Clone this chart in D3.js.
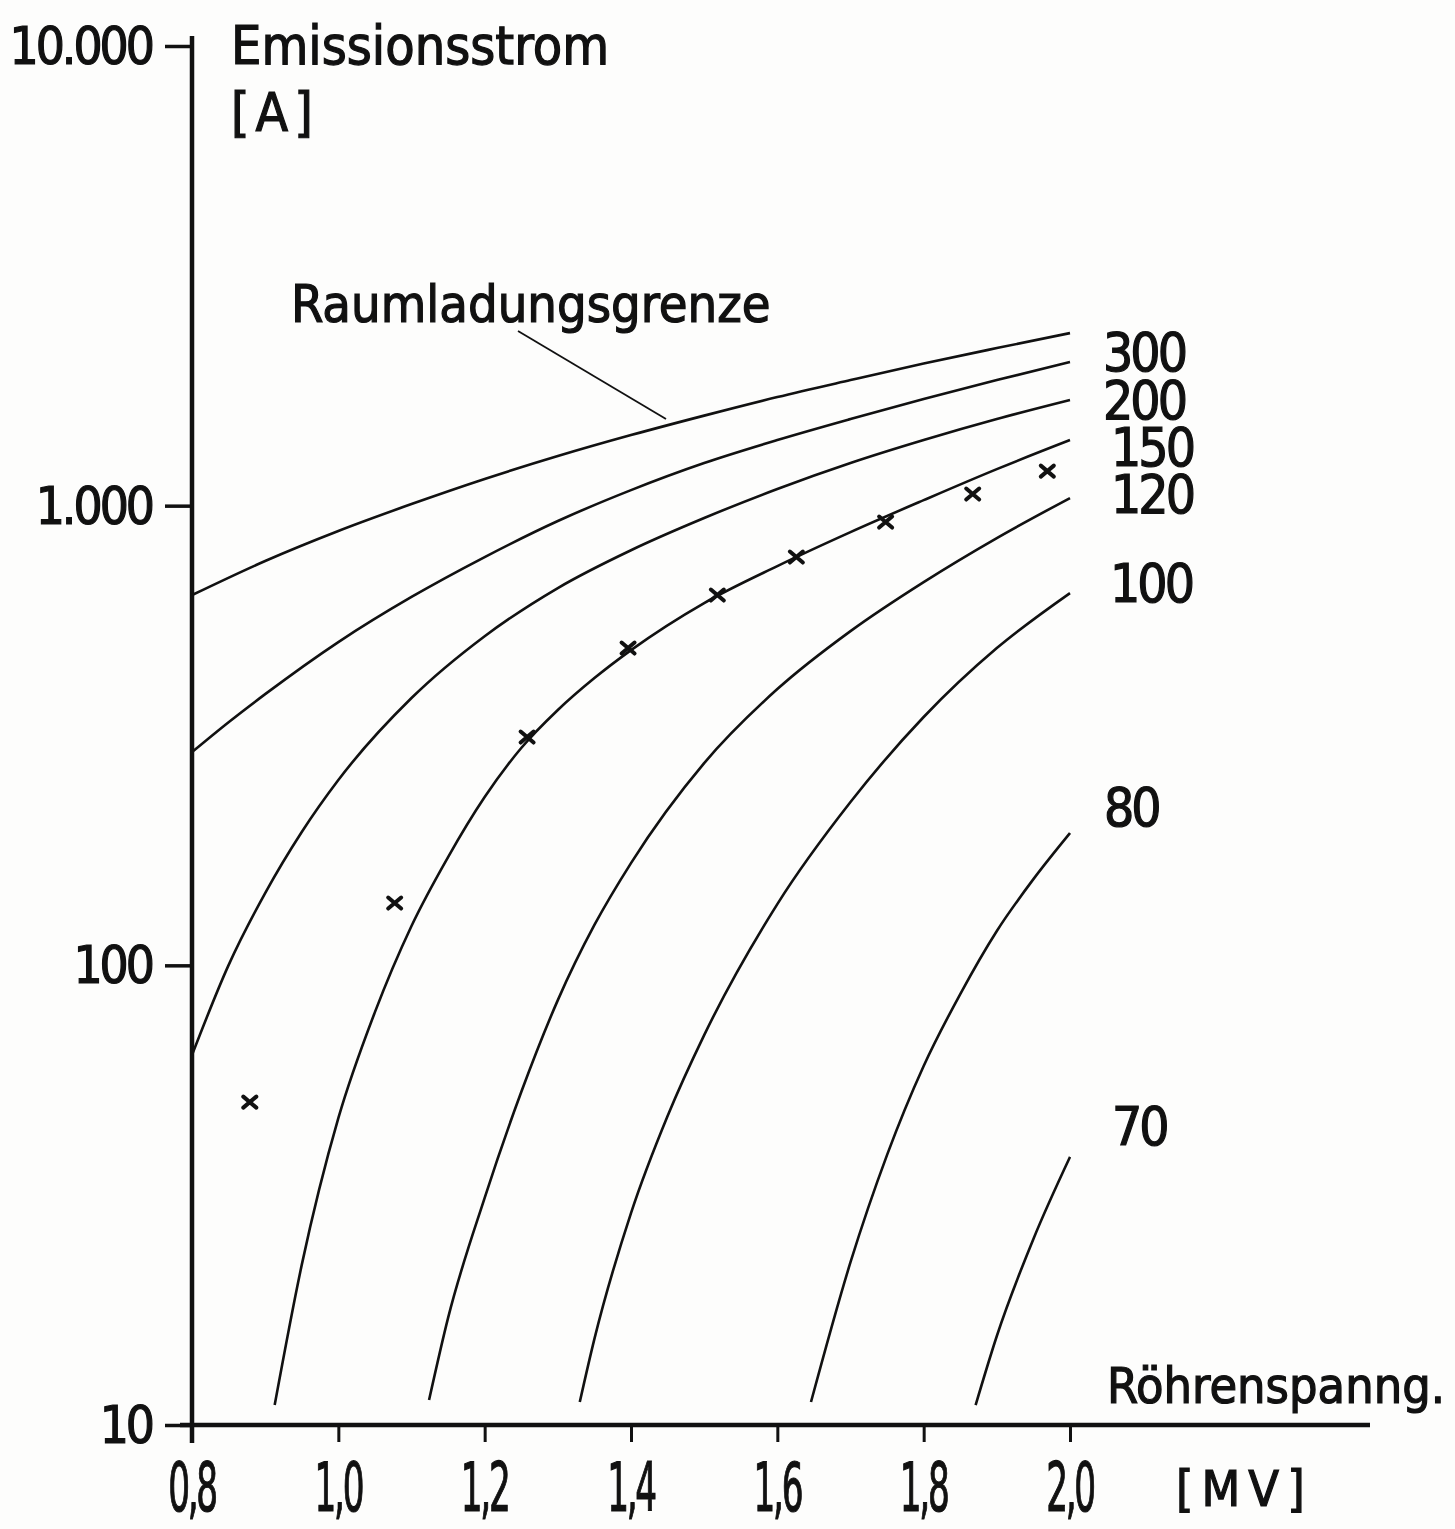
<!DOCTYPE html>
<html>
<head>
<meta charset="utf-8">
<script src="https://cdn.jsdelivr.net/npm/d3@7"></script>
<style>
  body { margin: 0; background: #fdfdfc; }
  svg text { font-family: "DejaVu Sans Condensed", "DejaVu Sans", sans-serif; fill: #111; stroke: #111; stroke-width: 1.2px; }
</style>
</head>
<body>
<div id="chart"></div>
<script>
// Emissionsstrom vs. Röhrenspannung (log y)
const WIDTH = 1455, HEIGHT = 1529;

// data: voltage [MV] and current [A] per curve
const curveNames = ["Raumladungsgrenze", "300", "200", "150", "120", "100", "80", "70"];
const vRlg = [0.8, 0.9, 1.0, 1.1, 1.2, 1.3, 1.4, 1.5, 1.6, 1.7, 1.8, 1.9, 2.0];
const iRlg = [639, 758, 881, 1008, 1143, 1282, 1424, 1570, 1723, 1876, 2038, 2202, 2374];
const v300 = [0.8, 0.85, 0.9, 1.0, 1.1, 1.2, 1.3, 1.4, 1.5, 1.6, 1.7, 1.8, 1.9, 2.0];
const i300 = [291, 338, 389, 505, 633, 773, 926, 1081, 1238, 1389, 1543, 1706, 1876, 2053];
const v200 = [0.8, 0.85, 0.9, 0.95, 1.0, 1.1, 1.2, 1.3, 1.4, 1.5, 1.6, 1.7, 1.8, 1.9, 2.0];
const i200 = [63.8, 100.1, 143.6, 195, 253, 381.5, 520, 662, 800, 940, 1087, 1238, 1389, 1543, 1697];
const v150 = [0.913, 0.95, 1.0, 1.05, 1.1, 1.15, 1.2, 1.25, 1.3, 1.35, 1.4, 1.5, 1.6, 1.7, 1.8, 1.9, 2.0];
const i150 = [11.05, 22.3, 46.5, 79.1, 121.8, 172.0, 232.3, 297, 359.3, 421.6, 485, 614, 739, 876, 1028, 1201, 1389];
const v120 = [1.124, 1.15, 1.2, 1.25, 1.3, 1.35, 1.4, 1.5, 1.6, 1.7, 1.8, 1.9, 2.0];
const i120 = [11.33, 17.1, 31.2, 53.0, 84.0, 122.4, 166.9, 275.4, 399.0, 533.5, 682, 850.3, 1038.7];
const v100 = [1.33, 1.35, 1.4, 1.45, 1.5, 1.6, 1.7, 1.8, 1.9, 2.0];
const i100 = [11.22, 15.39, 28.9, 47.0, 70.5, 135.9, 226.6, 346.9, 490, 645.4];
const v80 = [1.646, 1.7, 1.75, 1.8, 1.85, 1.9, 1.95, 2.0];
const i80 = [11.22, 22.6, 38.7, 60.4, 86.6, 118.8, 154.0, 194.0];
const v70 = [1.871, 1.9, 1.95, 2.0];
const i70 = [11.05, 15.62, 25.4, 38.3];

// measured points (crosses)
const vMeas = [0.879, 1.077, 1.258, 1.396, 1.518, 1.626, 1.748, 1.867, 1.969];
const iMeas = [50.4, 136.6, 313.8, 490, 639, 773, 921, 1060, 1189];

const xTicks = [0.8, 1.0, 1.2, 1.4, 1.6, 1.8, 2.0];
const xTickLabels = ["0,8", "1,0", "1,2", "1,4", "1,6", "1,8", "2,0"];
const yTicks = [10, 100, 1000, 10000];
const yTickLabels = ["10", "100", "1.000", "10.000"];

const curveV = [vRlg, v300, v200, v150, v120, v100, v80, v70];
const curveI = [iRlg, i300, i200, i150, i120, i100, i80, i70];

let svg = d3.select("#chart")
    .append("svg")
    .attr("width", WIDTH)
    .attr("height", HEIGHT);

let x = d3.scaleLinear().domain([0.8, 2.0]).range([192, 1070]);
let y = d3.scaleLog().domain([10, 10000]).range([1425, 46]);

const ink = "#111";

// axes (ticks only, the axis lines are drawn by hand so they can overshoot)
let xAxis = svg.append("g")
    .attr("transform", "translate(0,1425)")
    .call(d3.axisBottom(x).tickValues(xTicks).tickSize(17).tickSizeOuter(0).tickFormat(""));
xAxis.select(".domain").remove();
xAxis.selectAll("line").attr("stroke", ink).attr("stroke-width", 3);

let yAxis = svg.append("g")
    .attr("transform", "translate(192,0)")
    .call(d3.axisLeft(y).tickValues(yTicks).tickSize(27).tickSizeOuter(0).tickFormat(""));
yAxis.select(".domain").remove();
yAxis.selectAll("line").attr("stroke", ink).attr("stroke-width", 3.5);

svg.append("line")
    .attr("x1", 180).attr("x2", 1370)
    .attr("y1", 1425).attr("y2", 1425)
    .attr("stroke", ink).attr("stroke-width", 4.5);
svg.append("line")
    .attr("x1", 192).attr("x2", 192)
    .attr("y1", 36).attr("y2", 1443)
    .attr("stroke", ink).attr("stroke-width", 4.5);

// tick labels
svg.selectAll(".xlab")
    .data(xTicks)
    .enter()
    .append("text")
    .attr("class", "xlab")
    .attr("transform", function(d) { return `translate(${x(d)}, 1511) scale(0.56, 1)`; })
    .attr("text-anchor", "middle")
    .style("font-size", "68px")
    .style("letter-spacing", "-4px")
    .text(function(d, i) { return xTickLabels[i]; });

svg.selectAll(".ylab")
    .data(yTicks)
    .enter()
    .append("text")
    .attr("class", "ylab")
    .attr("x", 152)
    .attr("y", function(d) { return y(d) + 18; })
    .attr("text-anchor", "end")
    .style("font-size", "51px")
    .style("letter-spacing", "-3px")
    .text(function(d, i) { return yTickLabels[i]; });

// axis titles
svg.append("text").attr("x", 231).attr("y", 64).style("font-size", "53.5px").text("Emissionsstrom");
svg.append("text").attr("x", 231).attr("y", 131).style("font-size", "53px").style("letter-spacing", "6px").text("[A]");
svg.append("text").attr("x", 1107).attr("y", 1403).style("font-size", "50px").text("Röhrenspanng.");
svg.append("text").attr("x", 1176).attr("y", 1506).style("font-size", "50px").style("letter-spacing", "8px").text("[MV]");

// curves
let line = d3.line()
    .x(function(d) { return x(d[0]); })
    .y(function(d) { return y(d[1]); })
    .curve(d3.curveMonotoneX);

curveV.forEach(function(vs, k) {
    let pts = vs.map(function(v, j) { return [v, curveI[k][j]]; });
    svg.append("path")
        .attr("d", line(pts))
        .attr("fill", "none")
        .attr("stroke", ink)
        .attr("stroke-width", 2.6);
});

// curve labels at the right end (stacked tightly, as in the original)
const labelY = [null, 371, 419, 466, 513, 602, 826, 1145];
const labelX = [null, 1103, 1103, 1111, 1111, 1110, 1104, 1112];
curveNames.forEach(function(name, k) {
    if (k === 0) return;
    svg.append("text")
        .attr("x", labelX[k])
        .attr("y", labelY[k])
        .style("font-size", "53px")
        .style("letter-spacing", "-3px")
        .text(name);
});

svg.append("text").attr("x", 291).attr("y", 322).style("font-size", "52px").text(curveNames[0]);
svg.append("line")
    .attr("x1", 518).attr("y1", 331)
    .attr("x2", 666).attr("y2", 419)
    .attr("stroke", ink).attr("stroke-width", 1.8);

// measured crosses
svg.selectAll(".meas")
    .data(vMeas)
    .enter()
    .append("path")
    .attr("class", "meas")
    .attr("transform", function(d, i) { return `translate(${x(d)}, ${y(iMeas[i])})`; })
    .attr("d", "M-6.5,-5.5L6.5,5.5M-6.5,5.5L6.5,-5.5")
    .attr("stroke", ink)
    .attr("stroke-width", 4)
    .attr("stroke-linecap", "round");
</script>
</body>
</html>
